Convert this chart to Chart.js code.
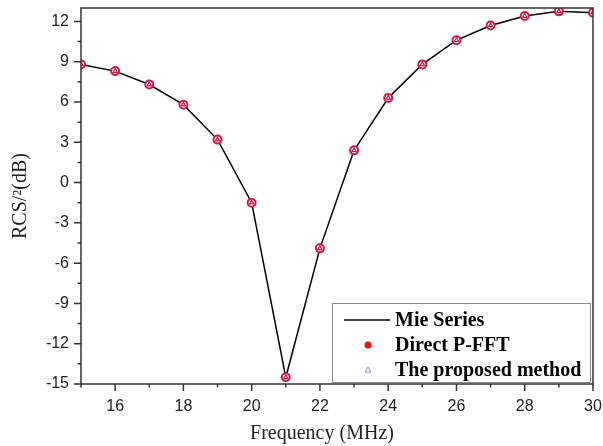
<!DOCTYPE html>
<html>
<head>
<meta charset="utf-8">
<script src="https://cdn.jsdelivr.net/npm/chart.js@4"></script>
<style>
  html, body { margin: 0; padding: 0; background: #fff; }
  #wrap { width: 603px; height: 446px; position: relative; }
</style>
</head>
<body>
<div id="wrap"><canvas id="rcsChart"></canvas></div>
<script>
// Frequency sweep (MHz) and monostatic RCS values (dB)
const frequencies = [15, 16, 17, 18, 19, 20, 21, 22, 23, 24, 25, 26, 27, 28, 29, 30];
const mieSeries = [8.8, 8.3, 7.3, 5.8, 3.2, -1.5, -14.5, -4.9, 2.4, 6.3, 8.8, 10.6, 11.7, 12.4, 12.75, 12.65];
const directPFFT = [8.8, 8.3, 7.3, 5.8, 3.2, -1.5, -14.5, -4.9, 2.4, 6.3, 8.8, 10.6, 11.7, 12.4, 12.75, 12.65];
const proposedMethod = [8.8, 8.3, 7.3, 5.8, 3.2, -1.5, -14.5, -4.9, 2.4, 6.3, 8.8, 10.6, 11.7, 12.4, 12.75, 12.65];

const xMajorTicks = [16, 18, 20, 22, 24, 26, 28, 30];
const yMajorTicks = [-15, -12, -9, -6, -3, 0, 3, 6, 9, 12];
const legendLabels = ['Mie Series', 'Direct P-FFT', 'The proposed method'];
const xTitle = 'Frequency (MHz)';

const serif = '"Liberation Serif", "Times New Roman", serif';
const sans = '"Liberation Sans", Arial, sans-serif';
const markerRed = '#d4194a';

function toPoints(ys) {
    return frequencies.map((f, i) => ({ x: f, y: ys[i] }));
}

// Outer frame plus major/minor tick marks on the bottom and left axes
const frameTicks = {
    id: 'frameTicks',
    afterDraw(chart) {
        const { ctx, chartArea: a, scales: { x, y } } = chart;
        ctx.save();
        ctx.strokeStyle = '#333';
        ctx.lineWidth = 1.5;
        ctx.strokeRect(a.left, a.top, a.right - a.left, a.bottom - a.top);
        ctx.beginPath();
        for (let v = 15; v <= 30; v += 1) {
            const px = x.getPixelForValue(v);
            const len = xMajorTicks.includes(v) ? 7 : 3.5;
            ctx.moveTo(px, a.bottom);
            ctx.lineTo(px, a.bottom + len);
        }
        for (let v = -15; v <= 12; v += 1.5) {
            const py = y.getPixelForValue(v);
            const len = yMajorTicks.includes(v) ? 7 : 3.5;
            ctx.moveTo(a.left, py);
            ctx.lineTo(a.left - len, py);
        }
        ctx.stroke();

        // x axis title, sitting a little left of the plot centre
        ctx.fillStyle = '#222';
        ctx.font = '20px ' + serif;
        ctx.textAlign = 'center';
        ctx.textBaseline = 'alphabetic';
        ctx.fillText(xTitle, a.left + 241, a.bottom + 55);
        ctx.restore();
    }
};

// Boxed legend in the lower right corner of the plot
const boxLegend = {
    id: 'boxLegend',
    afterDraw(chart) {
        const { ctx, chartArea: a } = chart;
        const left = a.right - 261, top = a.bottom - 81;
        const w = 258, h = 79;
        ctx.save();
        ctx.fillStyle = '#fff';
        ctx.fillRect(left, top, w, h);
        ctx.strokeStyle = '#888';
        ctx.lineWidth = 1;
        ctx.strokeRect(left + 0.5, top + 0.5, w, h);

        const rowY = [top + 17, top + 42, top + 67];
        const symX = left + 36;
        // line sample
        ctx.strokeStyle = '#000';
        ctx.lineWidth = 1.5;
        ctx.beginPath();
        ctx.moveTo(left + 12, rowY[0]);
        ctx.lineTo(left + 58, rowY[0]);
        ctx.stroke();
        // filled dot
        ctx.fillStyle = '#f01010';
        ctx.beginPath();
        ctx.arc(symX, rowY[1], 3.5, 0, Math.PI * 2);
        ctx.fill();
        // small open triangle
        ctx.strokeStyle = '#8a8ad0';
        ctx.lineWidth = 1;
        ctx.beginPath();
        ctx.moveTo(symX, rowY[2] - 3);
        ctx.lineTo(symX + 3, rowY[2] + 2);
        ctx.lineTo(symX - 3, rowY[2] + 2);
        ctx.closePath();
        ctx.stroke();

        ctx.fillStyle = '#000';
        ctx.font = 'bold 20px ' + serif;
        ctx.textBaseline = 'middle';
        legendLabels.forEach((t, i) => ctx.fillText(t, left + 63, rowY[i] + 1));
        ctx.restore();
    }
};

new Chart(document.getElementById('rcsChart'), {
    type: 'line',
    data: {
        datasets: [
            {
                label: legendLabels[0],
                data: toPoints(mieSeries),
                borderColor: '#000',
                borderWidth: 1.5,
                pointRadius: 0,
                tension: 0,
                order: 3
            },
            {
                label: legendLabels[1],
                data: toPoints(directPFFT),
                showLine: false,
                pointStyle: 'circle',
                pointRadius: 4,
                pointBorderWidth: 2,
                pointBorderColor: markerRed,
                pointBackgroundColor: '#fff',
                order: 2
            },
            {
                label: legendLabels[2],
                data: toPoints(proposedMethod),
                showLine: false,
                pointStyle: 'triangle',
                pointRadius: 2.5,
                pointBorderWidth: 1.2,
                pointBorderColor: markerRed,
                pointBackgroundColor: '#fff',
                order: 1
            }
        ]
    },
    options: {
        responsive: true,
        maintainAspectRatio: false,
        animation: false,
        layout: { padding: { top: 8, right: 10, left: 0, bottom: 0 } },
        plugins: {
            legend: { display: false },
            tooltip: { enabled: false }
        },
        scales: {
            x: {
                type: 'linear',
                min: 15,
                max: 30,
                afterFit(scale) {
                    scale.height = 62;
                    scale.paddingLeft = 0;
                    scale.paddingRight = 0;
                },
                grid: { display: false, drawTicks: false },
                border: { display: false },
                ticks: {
                    stepSize: 2,
                    includeBounds: false,
                    padding: 13,
                    color: '#222',
                    font: { family: sans, size: 16 }
                }
            },
            y: {
                min: -15,
                max: 13,
                afterFit(scale) {
                    scale.width = 81;
                    scale.paddingTop = 0;
                    scale.paddingBottom = 0;
                },
                grid: { display: false, drawTicks: false },
                border: { display: false },
                ticks: {
                    stepSize: 3,
                    includeBounds: false,
                    padding: 12,
                    color: '#222',
                    font: { family: sans, size: 16 }
                },
                title: {
                    display: true,
                    text: 'RCS/²(dB)',
                    color: '#222',
                    font: { family: serif, size: 20 },
                    padding: { top: 9, bottom: 0 }
                }
            }
        }
    },
    plugins: [frameTicks, boxLegend]
});
</script>
</body>
</html>
